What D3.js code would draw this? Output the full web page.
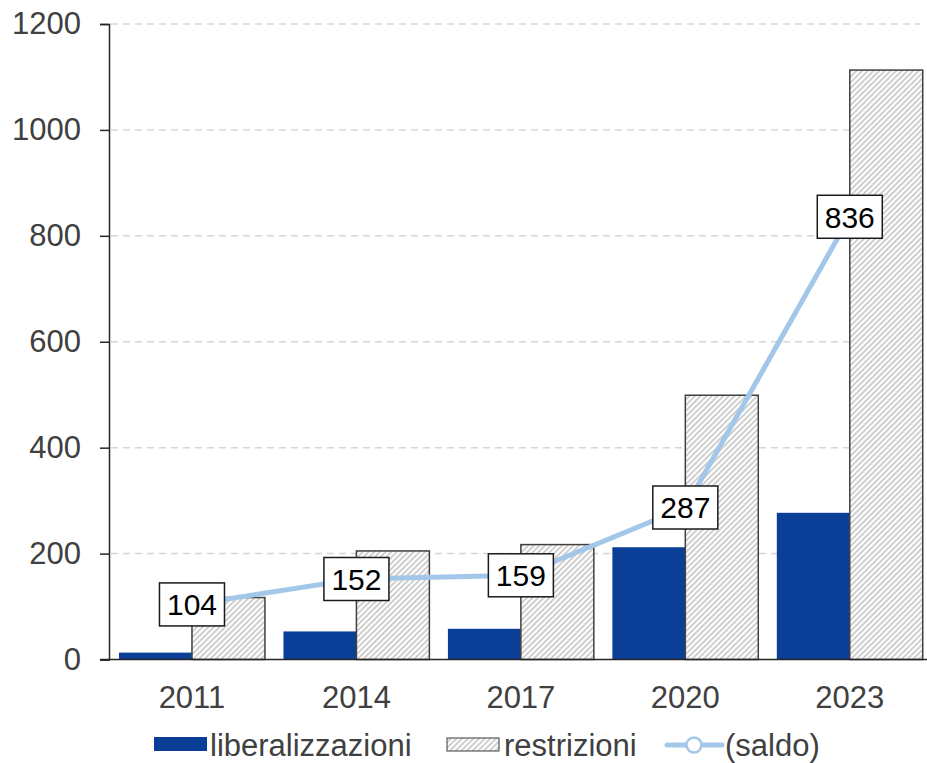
<!DOCTYPE html>
<html lang="it">
<head>
    <meta charset="UTF-8">
    <script src="https://d3js.org/d3.v7.min.js"></script>
    <title>Liberalizzazioni e restrizioni</title>
    <style>
        body { margin: 0; background: #fff; }
        svg { display: block; font-family: "Liberation Sans", Arial, sans-serif; }
    </style>
</head>
<body>

<script>
// Data
const years = ['2011', '2014', '2017', '2020', '2023'];
const liberalizzazioni = [13, 53, 58, 212, 277];
const restrizioni = [117, 205, 217, 499, 1113];
const saldo = [104, 152, 159, 287, 836];
const yTicks = [0, 200, 400, 600, 800, 1000, 1200];
const seriesNames = ['liberalizzazioni', 'restrizioni', '(saldo)'];

const W = 927, H = 763;
const textGray = '#404040';
const blue = '#0b3f97';
const lineBlue = '#a3c7e9';

const svg = d3.select('body').append('svg')
    .attr('width', W)
    .attr('height', H);

// hatch pattern for restrizioni
const defs = svg.append('defs');
const pat = defs.append('pattern')
    .attr('id', 'hatch')
    .attr('patternUnits', 'userSpaceOnUse')
    .attr('width', 4)
    .attr('height', 4)
    .attr('patternTransform', 'rotate(45)');
pat.append('rect').attr('width', 4).attr('height', 4).attr('fill', '#fff');
pat.append('line')
    .attr('x1', 1).attr('y1', 0).attr('x2', 1).attr('y2', 4)
    .attr('stroke', '#cfcfcf').attr('stroke-width', 2);

// scales
const x0 = d3.scaleBand().domain(years).range([109.75, 932]).padding(0);
const x1 = d3.scaleBand().domain(['lib', 'res'])
    .range([0, x0.bandwidth()]).paddingInner(0).paddingOuter(0.127);
const y = d3.scaleLinear().domain([0, 1200]).range([659.5, 24]);

// gridlines
svg.append('g').selectAll('line')
    .data(yTicks.filter(d => d > 0))
    .enter().append('line')
    .attr('x1', 111).attr('x2', 920)
    .attr('y1', d => y(d)).attr('y2', d => y(d))
    .attr('stroke', '#d6d6d6')
    .attr('stroke-width', 1.5)
    .attr('stroke-dasharray', '7,5');

// y axis
const yAxis = svg.append('g')
    .attr('transform', 'translate(109,0)')
    .call(d3.axisLeft(y).tickValues(yTicks).tickFormat(d3.format('d'))
        .tickSize(9).tickPadding(19));
yAxis.select('.domain').attr('stroke', '#262626').attr('stroke-width', 1.5);
yAxis.selectAll('.tick line').attr('stroke', '#262626').attr('stroke-width', 1.5);
yAxis.selectAll('.tick text')
    .attr('fill', textGray)
    .style('font-size', '31px')
    .style('font-family', '"Liberation Sans", Arial, sans-serif');

// bars
const groups = svg.append('g').selectAll('g')
    .data(years)
    .enter().append('g')
    .attr('transform', d => `translate(${x0(d)},0)`);

groups.append('rect')
    .attr('x', x1('lib'))
    .attr('width', x1.bandwidth())
    .attr('y', (d, i) => y(liberalizzazioni[i]))
    .attr('height', (d, i) => y(0) - y(liberalizzazioni[i]))
    .attr('fill', blue);

groups.append('rect')
    .attr('x', x1('res'))
    .attr('width', x1.bandwidth())
    .attr('y', (d, i) => y(restrizioni[i]))
    .attr('height', (d, i) => y(0) - y(restrizioni[i]))
    .attr('fill', 'url(#hatch)')
    .attr('stroke', '#404040')
    .attr('stroke-width', 1.5);

// x baseline
svg.append('line')
    .attr('x1', 100).attr('x2', W)
    .attr('y1', y(0)).attr('y2', y(0))
    .attr('stroke', '#262626')
    .attr('stroke-width', 1.5);

// category labels
svg.append('g').selectAll('text')
    .data(years)
    .enter().append('text')
    .attr('x', d => x0(d) + x0.bandwidth() / 2)
    .attr('y', 708)
    .attr('text-anchor', 'middle')
    .attr('fill', textGray)
    .style('font-size', '31px')
    .text(d => d);

// saldo line
const cx = d => x0(d) + x0.bandwidth() / 2;
const line = d3.line()
    .x((d, i) => cx(years[i]))
    .y(d => y(d));

svg.append('path')
    .datum(saldo)
    .attr('d', line)
    .attr('fill', 'none')
    .attr('stroke', lineBlue)
    .attr('stroke-width', 5);

// data labels in boxes
const labels = svg.append('g').selectAll('g')
    .data(saldo)
    .enter().append('g')
    .attr('transform', (d, i) => `translate(${cx(years[i])},${y(d)})`);

labels.append('rect')
    .attr('x', -32.5).attr('y', -21.5)
    .attr('width', 65).attr('height', 43)
    .attr('fill', '#fff')
    .attr('stroke', '#1a1a1a')
    .attr('stroke-width', 1.5);

labels.append('text')
    .attr('text-anchor', 'middle')
    .attr('dy', '0.36em')
    .attr('fill', '#000')
    .style('font-size', '30px')
    .text(d => d);

// legend
const legendY = 756;
const legend = svg.append('g');
legend.append('rect')
    .attr('x', 154).attr('y', 737).attr('width', 53).attr('height', 14)
    .attr('fill', blue);
legend.append('text')
    .attr('x', 210).attr('y', legendY)
    .attr('fill', textGray).style('font-size', '31px')
    .text(seriesNames[0]);

legend.append('rect')
    .attr('x', 447).attr('y', 738).attr('width', 52).attr('height', 13)
    .attr('fill', 'url(#hatch)')
    .attr('stroke', '#595959').attr('stroke-width', 1.2);
legend.append('text')
    .attr('x', 504).attr('y', legendY)
    .attr('fill', textGray).style('font-size', '31px')
    .text(seriesNames[1]);

legend.append('line')
    .attr('x1', 667).attr('x2', 722)
    .attr('y1', 745).attr('y2', 745)
    .attr('stroke', lineBlue).attr('stroke-width', 5)
    .attr('stroke-linecap', 'round');
legend.append('circle')
    .attr('cx', 694).attr('cy', 745).attr('r', 7.5)
    .attr('fill', '#fff')
    .attr('stroke', lineBlue).attr('stroke-width', 2.5);
legend.append('text')
    .attr('x', 725).attr('y', legendY)
    .attr('fill', textGray).style('font-size', '31px')
    .text(seriesNames[2]);
</script>

</body>
</html>
